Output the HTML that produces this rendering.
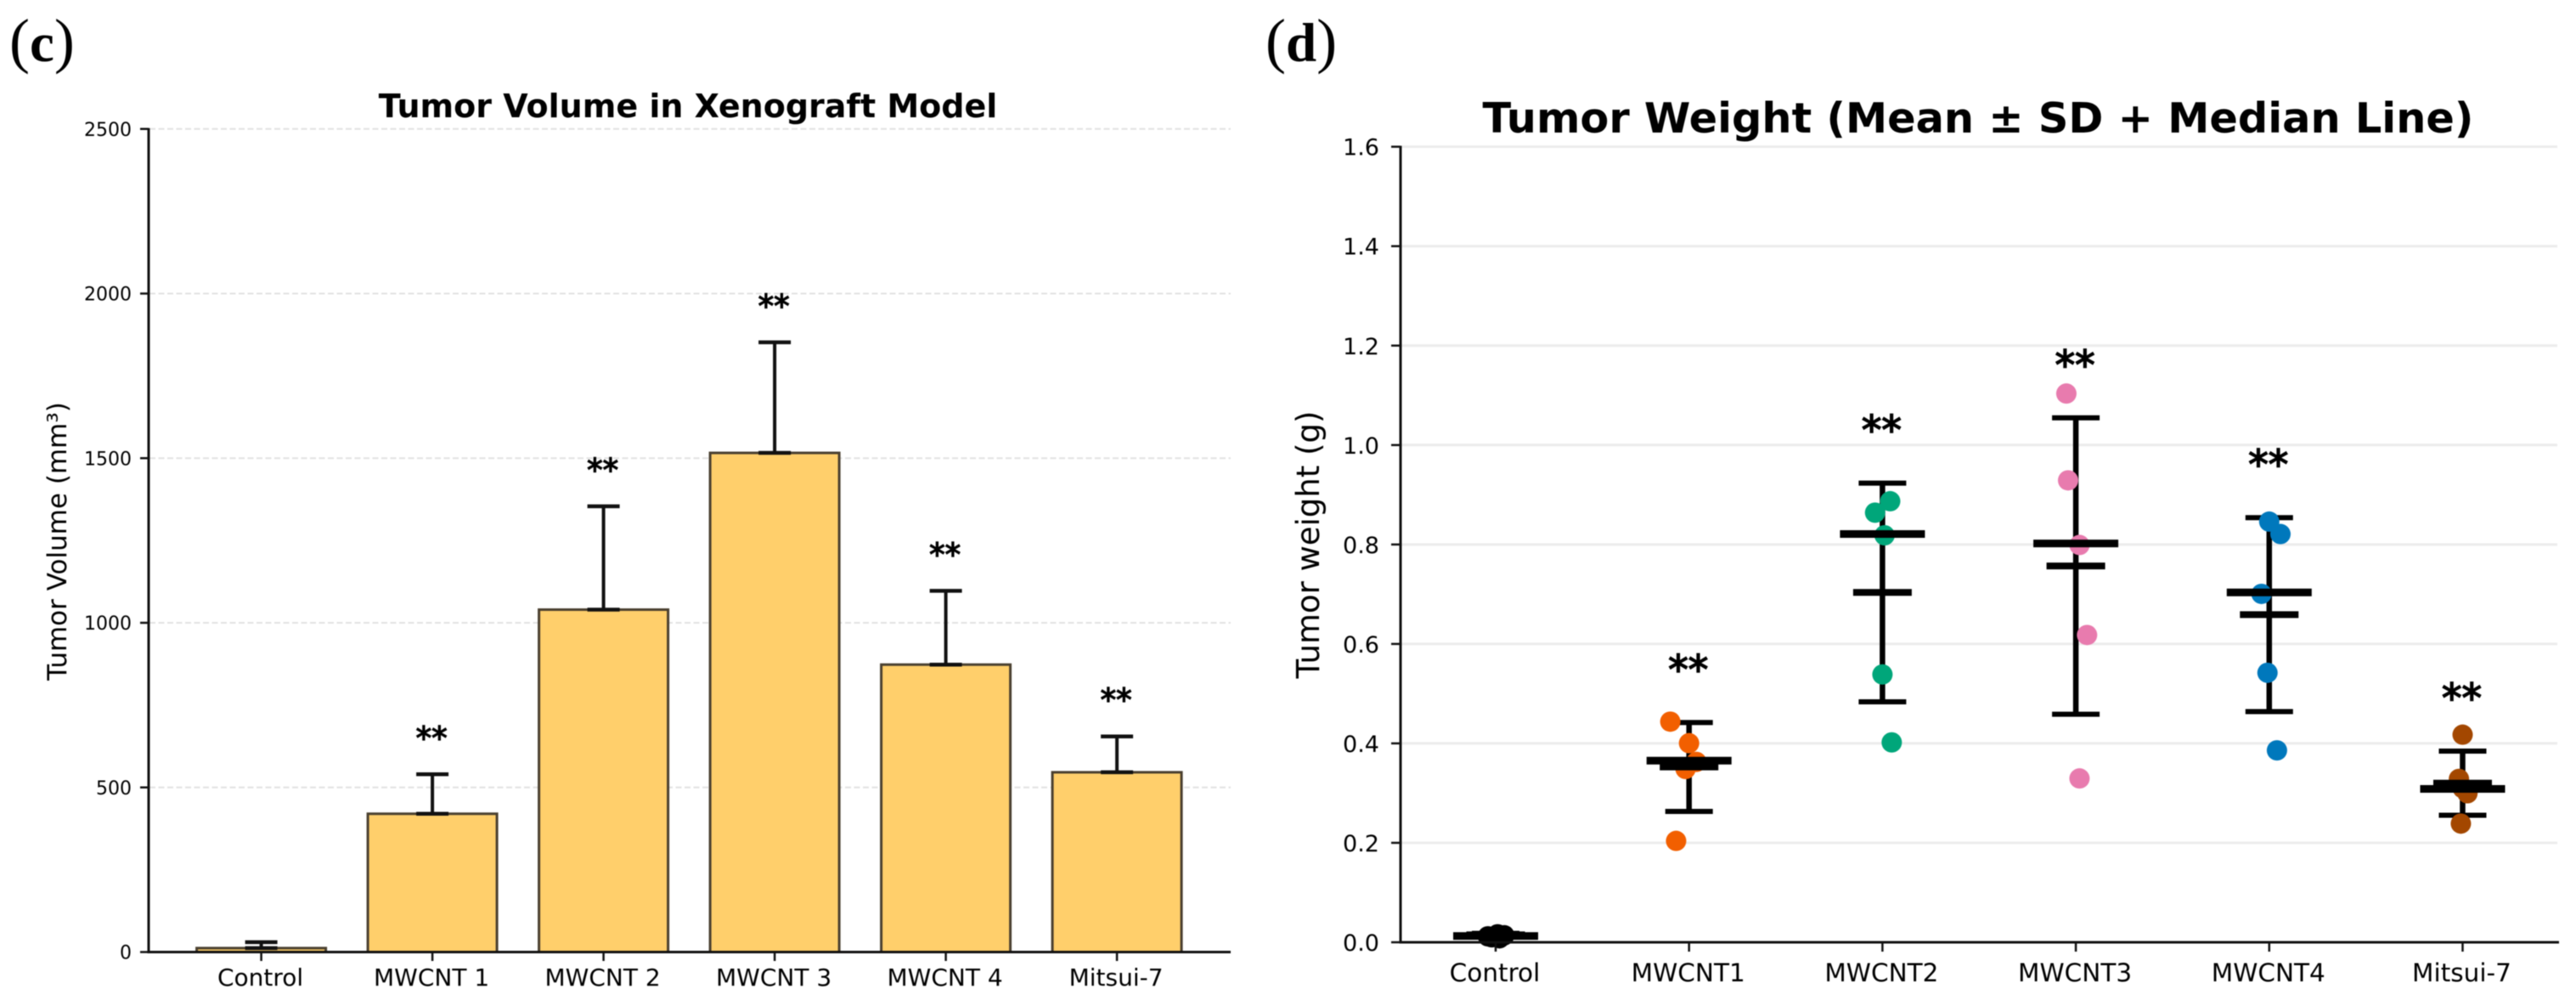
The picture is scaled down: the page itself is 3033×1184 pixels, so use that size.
<!DOCTYPE html>
<html lang="en">
<head>
<meta charset="utf-8">
<title>Tumor Volume and Tumor Weight Charts</title>
<style>
html,body{margin:0;padding:0;background:#fff;}
body{width:3033px;height:1184px;overflow:hidden;}
svg{display:block;filter:blur(0.6px);}
text{font-family:"DejaVu Sans","Liberation Sans",sans-serif;fill:#000;}
.panel{font-family:"Liberation Serif",serif;fill:#000;font-size:72px;}
.panel tspan{font-weight:bold;font-size:65px;}
</style>
</head>
<body>
<svg id="fig" xmlns="http://www.w3.org/2000/svg" width="3033" height="1184" viewBox="0 0 3033 1184">
  <rect x="0" y="0" width="3033" height="1184" fill="#ffffff"/>
  <text class="panel" x="11" y="72">(<tspan>c</tspan>)</text>
  <text class="panel" x="1490" y="72">(<tspan>d</tspan>)</text>
  <text x="810" y="138" text-anchor="middle" font-size="38" font-weight="bold">Tumor Volume in Xenograft Model</text>
  <text x="2329" y="156" text-anchor="middle" font-size="49.4" font-weight="bold">Tumor Weight (Mean ± SD + Median Line)</text>
  <text transform="translate(78,637) rotate(-90)" text-anchor="middle" font-size="31">Tumor Volume (mm³)</text>
  <text transform="translate(1553,641) rotate(-90)" text-anchor="middle" font-size="37">Tumor weight (g)</text>
  <g id="volume-chart"></g>
  <g id="weight-chart"></g>
</svg>
<script>
// Panel (c) data
const volumeCategories = ["Control", "MWCNT 1", "MWCNT 2", "MWCNT 3", "MWCNT 4", "Mitsui-7"];
const volumeMeans = [12, 420, 1040, 1516, 873, 546];
const volumeErrors = [18, 120, 314, 336, 224, 109];
const volumeStars = ["", "**", "**", "**", "**", "**"];
const volumeTicks = [0, 500, 1000, 1500, 2000, 2500];

// Panel (d) data
const weightCategories = ["Control", "MWCNT1", "MWCNT2", "MWCNT3", "MWCNT4", "Mitsui-7"];
const weightMeans = [0.015, 0.3526, 0.7035, 0.7567, 0.659, 0.32];
const weightSDs = [0.003, 0.0894, 0.22, 0.298, 0.195, 0.0645];
const weightMedians = [0.0125, 0.3652, 0.821, 0.802, 0.7035, 0.3084];
const weightStars = ["", "**", "**", "**", "**", "**"];
const weightTicks = ["0.0", "0.2", "0.4", "0.6", "0.8", "1.0", "1.2", "1.4", "1.6"];
const weightSamples = [
  [0.012, 0.016, 0.014, 0.01, 0.008],
  [0.4437, 0.4004, 0.3628, 0.3486, 0.2039],
  [0.887, 0.864, 0.8185, 0.5386, 0.402],
  [1.1036, 0.929, 0.799, 0.618, 0.3295],
  [0.846, 0.821, 0.7007, 0.542, 0.386],
  [0.4175, 0.3286, 0.2997, 0.2387, 0.31]
];
const weightJitter = [
  [-0.04, 0.01, 0.045, -0.02, 0.02],
  [-0.097, 0, 0.038, -0.018, -0.067],
  [0.04, -0.038, 0.011, 0, 0.048],
  [-0.049, -0.04, 0.019, 0.058, 0.019],
  [0, 0.058, -0.04, -0.009, 0.04],
  [0, -0.019, 0.025, -0.009, 0]
];
const weightColors = ["#000000", "#F25F00", "#00A67A", "#E87BAE", "#0078BC", "#A34700"];

const NS = "http://www.w3.org/2000/svg";
function make(parent, tag, attrs, txt) {
  const el = document.createElementNS(NS, tag);
  for (const k in attrs) el.setAttribute(k, attrs[k]);
  if (txt !== undefined) el.textContent = txt;
  parent.appendChild(el);
  return el;
}

// axis functions
const volumeX = i => 307.6 + 201.5 * i;
const volumeY = v => 1120.5 - v * 0.3875;
const weightX = i => 1761 + 227.7 * i;
const weightY = v => 1109 - v * 585.2;

const vg = document.getElementById("volume-chart");
const wg = document.getElementById("weight-chart");

// ---------- Panel (c) ----------
volumeTicks.forEach(t => {
  const y = volumeY(t);
  if (t > 0) {
    const grid = make(vg, "line", {x1: 176, x2: 1449, y1: y, y2: y, stroke: "#e2e2e2", "stroke-width": 2, "stroke-dasharray": "7 3.5"});
    
    
  }
  const tick = make(vg, "line", {x1: 165, x2: 175, y1: y, y2: y, stroke: "#111", "stroke-width": 2.5});
  
  
  const label = make(vg, "text", {x: 155, y: y + 8, "text-anchor": "end", "font-size": 22}, String(t));
  
  
});

volumeCategories.forEach((c, i) => {
  const x = volumeX(i);
  const top = volumeY(volumeMeans[i]);
  const errTop = volumeY(volumeMeans[i] + volumeErrors[i]);
  const bar = make(vg, "rect", {x: x - 76, y: top, width: 152, height: volumeY(0) - top, fill: "#FFCF6B", stroke: "#4a4030", "stroke-width": 3});
  
  
  const stem = make(vg, "line", {x1: x, x2: x, y1: top, y2: errTop, stroke: "#111", "stroke-width": 4});
  
  
  [errTop, top].forEach(cy => {
    const cap = make(vg, "line", {x1: x - 19, x2: x + 19, y1: cy, y2: cy, stroke: "#111", "stroke-width": 4.5});
    
    
  });
  const tick = make(vg, "line", {x1: x, x2: x, y1: 1120, y2: 1131, stroke: "#111", "stroke-width": 2.5});
  
  
  const label = make(vg, "text", {x: x - 1, y: 1160, "text-anchor": "middle", "font-size": 28}, c);
  
  
  if (volumeStars[i]) {
    const star = make(vg, "text", {x: x - 1, y: errTop - 30, "text-anchor": "middle", "font-size": 37, stroke: "#000", "stroke-width": 1.3}, volumeStars[i]);
    
    
  }
});

const vAxisY = make(vg, "line", {x1: 175, x2: 175, y1: volumeY(2500) - 1, y2: volumeY(0) + 1.5, stroke: "#111", "stroke-width": 3});


const vAxisX = make(vg, "line", {x1: 174, x2: 1449, y1: volumeY(0), y2: volumeY(0), stroke: "#111", "stroke-width": 3});



// ---------- Panel (d) ----------
weightTicks.forEach(t => {
  const y = weightY(parseFloat(t));
  const grid = make(wg, "line", {x1: 1650, x2: 3011, y1: y, y2: y, stroke: "#ececec", "stroke-width": 3});
  
  
  const tick = make(wg, "line", {x1: 1638, x2: 1649, y1: y, y2: y, stroke: "#111", "stroke-width": 2.5});
  
  
  const label = make(wg, "text", {x: 1624, y: y + 10, "text-anchor": "end", "font-size": 27}, t);
  
  
});

weightCategories.forEach((c, i) => {
  const x = weightX(i);
  const upper = weightY(weightMeans[i] + weightSDs[i]);
  const lower = weightY(weightMeans[i] - weightSDs[i]);
  const stem = make(wg, "line", {x1: x, x2: x, y1: upper, y2: lower, stroke: "#000", "stroke-width": 6.5});
  
  
  [upper, lower].forEach(cy => {
    const cap = make(wg, "line", {x1: x - 28, x2: x + 28, y1: cy, y2: cy, stroke: "#000", "stroke-width": 6});
    
    
  });
  weightSamples[i].forEach((v, j) => {
    const dot = make(wg, "circle", {cx: x + weightJitter[i][j] * 227.7, cy: weightY(v), r: 12, fill: weightColors[i]});
    
    
  });
  const meanY = weightY(weightMeans[i]);
  const meanLine = make(wg, "line", {x1: x - 34.5, x2: x + 34.5, y1: meanY, y2: meanY, stroke: "#000", "stroke-width": 8});
  
  
  const medY = weightY(weightMedians[i]);
  const medLine = make(wg, "line", {x1: x - 50, x2: x + 50, y1: medY, y2: medY, stroke: "#000", "stroke-width": 9});
  
  
  const tick = make(wg, "line", {x1: x, x2: x, y1: 1109, y2: 1120, stroke: "#111", "stroke-width": 2.5});
  
  
  const label = make(wg, "text", {x: x - 1, y: 1155, "text-anchor": "middle", "font-size": 29.5}, c);
  
  
  if (weightStars[i]) {
    const star = make(wg, "text", {x: x - 1, y: upper - 46, "text-anchor": "middle", "font-size": 47, stroke: "#000", "stroke-width": 1.6}, weightStars[i]);
    
    
  }
});

const wAxisY = make(wg, "line", {x1: 1649, x2: 1649, y1: weightY(1.6) - 1, y2: weightY(0) + 1.5, stroke: "#111", "stroke-width": 3});


const wAxisX = make(wg, "line", {x1: 1648, x2: 3013, y1: weightY(0), y2: weightY(0), stroke: "#111", "stroke-width": 3});


</script>
</body>
</html>
